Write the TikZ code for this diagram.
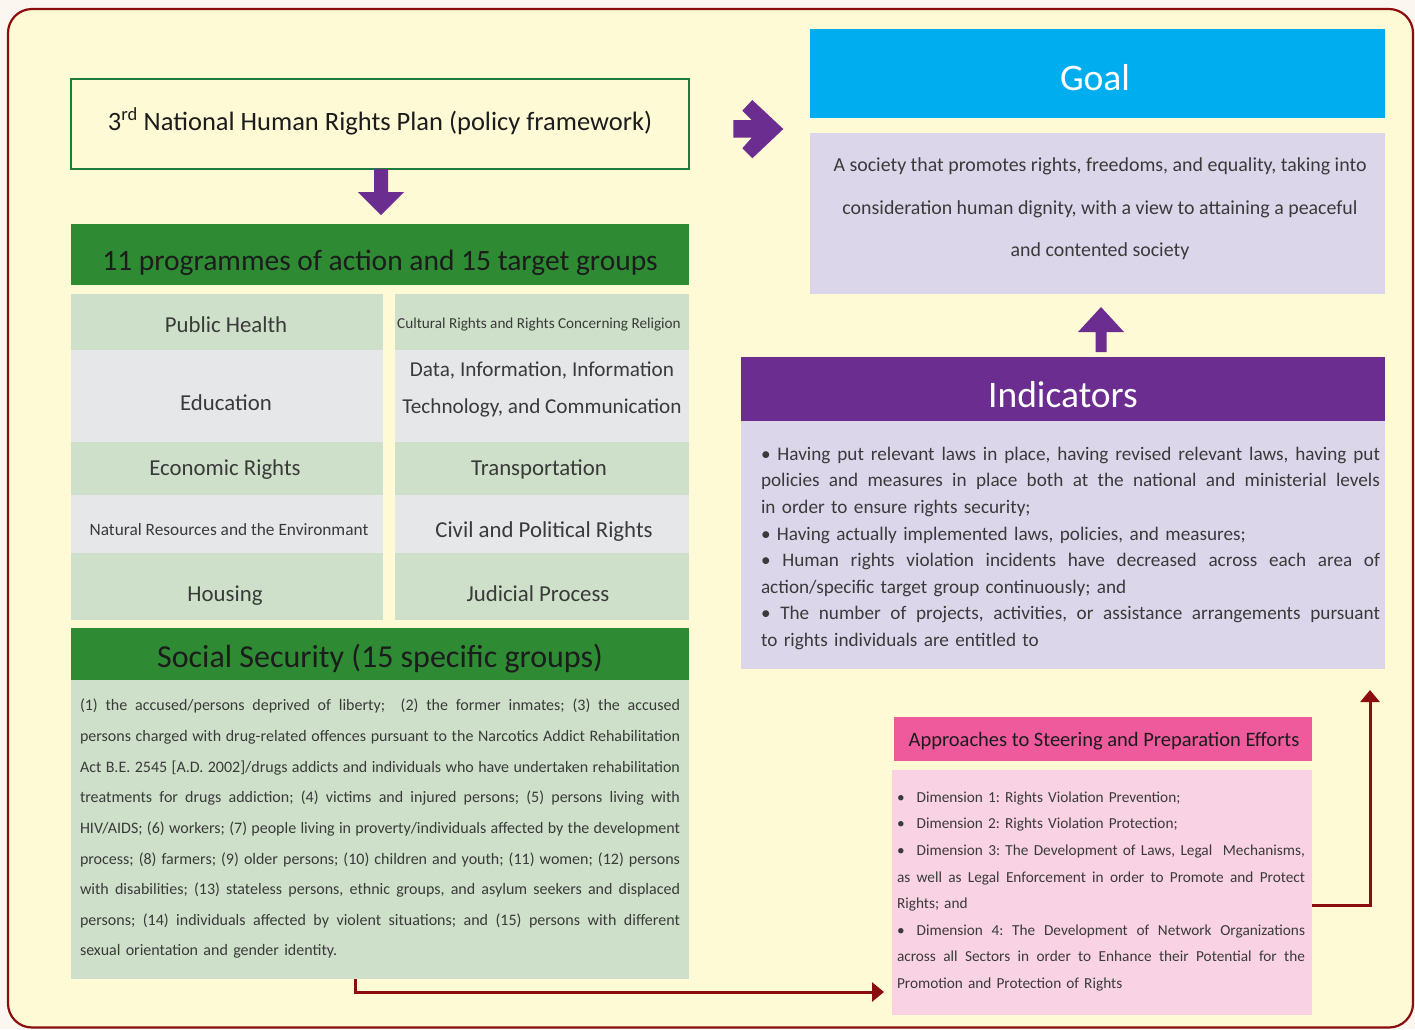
\documentclass[tikz,border=0pt]{standalone}
\usepackage{fontspec}
\setmainfont{Carlito}
\usetikzlibrary{arrows.meta,calc}
\definecolor{bgout}{HTML}{FBF7F0}
\definecolor{paper}{HTML}{FFFAD6}
\definecolor{framered}{HTML}{8B0D0D}
\definecolor{hgreen}{HTML}{2E8B34}
\definecolor{lgreen}{HTML}{CEE0C9}
\definecolor{lgray}{HTML}{E6E7E9}
\definecolor{tgreen}{HTML}{1F7A3D}
\definecolor{purp}{HTML}{6B2D90}
\definecolor{cyanb}{HTML}{00AEEF}
\definecolor{lav}{HTML}{DCD6EA}
\definecolor{pinkh}{HTML}{EE5A9C}
\definecolor{pinkl}{HTML}{F9D3E3}
\definecolor{txt}{HTML}{3A3A3A}
\definecolor{htxt}{HTML}{1C1C1C}
\newcommand\Jw{600pt}
\newcommand\Jline[1]{\leavevmode\hbox to \Jw{\frenchspacing\spaceskip=\fontdimen2\font plus 1fil minus 0.3\fontdimen2\font\relax #1}}
\newcommand\Lline[1]{\leavevmode\hbox to \Jw{\frenchspacing #1\hfil}}
\newcommand\fsz[2]{\fontsize{#1}{#2}\selectfont}
\begin{document}
\begin{tikzpicture}[x=1pt,y=-1pt,
  box/.style={anchor=north west, inner sep=0pt, outer sep=0pt},
  lbl/.style={anchor=base, inner sep=0pt, text=txt, font=\fsz{22.8}{26}},
  para/.style={anchor=center, inner sep=0pt, align=left, text=txt},
  redarrow/.style={draw=framered, line width=3pt, -{Triangle[length=12pt,width=19pt]}},
]
% canvas
\path[fill=bgout] (0,0) rectangle (1415,1029);
\useasboundingbox (0,0) rectangle (1415,1029);
\draw[framered, line width=2.2pt, fill=paper, rounded corners=24pt] (8,9) rectangle (1413,1027.5);

% ---- left column ----
\node[box, draw=tgreen, line width=2pt, fill=paper, minimum width=618pt, minimum height=90pt] (title) at (71,79) {};
\node[lbl, text=htxt, font=\fsz{26.5}{30}] (titletxt) at (380,130) {3\textsuperscript{rd} National Human Rights Plan (policy framework)};

\node[box, fill=hgreen, minimum width=618pt, minimum height=61pt] (progh) at (71,224) {};
\node[lbl, text=htxt, font=\fsz{29.5}{32}] (proghtxt) at (380,270) {11 programmes of action and 15 target groups};

% cells left
\node[box, fill=lgreen, minimum width=312pt, minimum height=56pt] (c1) at (71,294) {};
\node[box, fill=lgray,  minimum width=312pt, minimum height=92pt] (c2) at (71,350) {};
\node[box, fill=lgreen, minimum width=312pt, minimum height=53pt] (c3) at (71,442) {};
\node[box, fill=lgray,  minimum width=312pt, minimum height=58pt] (c4) at (71,495) {};
\node[box, fill=lgreen, minimum width=312pt, minimum height=67pt] (c5) at (71,553) {};
% cells right
\node[box, fill=lgreen, minimum width=294pt, minimum height=56pt] (d1) at (395,294) {};
\node[box, fill=lgray,  minimum width=294pt, minimum height=92pt] (d2) at (395,350) {};
\node[box, fill=lgreen, minimum width=294pt, minimum height=53pt] (d3) at (395,442) {};
\node[box, fill=lgray,  minimum width=294pt, minimum height=58pt] (d4) at (395,495) {};
\node[box, fill=lgreen, minimum width=294pt, minimum height=67pt] (d5) at (395,553) {};

\node[lbl] (t1) at (226,332) {Public Health};
\node[lbl] (t2) at (226,410) {Education};
\node[lbl] (t3) at (225,475) {Economic Rights};
\node[lbl, font=\fsz{17.3}{20}] (t4) at (229,535) {Natural Resources and the Environmant};
\node[lbl] (t5) at (225,601) {Housing};
\node[lbl, font=\fsz{15.2}{17}] (u1) at (539,328) {Cultural Rights and Rights Concerning Religion};
\node[anchor=center, inner sep=0pt, text=txt, align=center, font=\fsz{21.2}{37}] (u2) at (542,389.5) {Data, Information, Information\\Technology, and Communication};
\node[lbl] (u3) at (539,475) {Transportation};
\node[lbl] (u4) at (544,537) {Civil and Political Rights};
\node[lbl] (u5) at (538,601) {Judicial Process};

\node[box, fill=hgreen, minimum width=618pt, minimum height=52pt] (ssh) at (71,628) {};
\node[lbl, text=htxt, font=\fsz{32}{34}] (sshtxt) at (380,667) {Social Security (15 specific groups)};

\node[box, fill=lgreen, minimum width=618pt, minimum height=299pt] (ssb) at (71,680) {};
\node[para, text width=600pt, font=\fsz{16}{30.625}] (ssbtxt) at (380,829) {\renewcommand\Jw{600pt}%
\Jline{(1) the accused/persons deprived of liberty;\ \ (2) the former inmates; (3) the accused}\\
\Jline{persons charged with drug-related offences pursuant to the Narcotics Addict Rehabilitation}\\
\Jline{Act B.E. 2545 [A.D. 2002]/drugs addicts and individuals who have undertaken rehabilitation}\\
\Jline{treatments for drugs addiction; (4) victims and injured persons; (5) persons living with}\\
\Jline{HIV/AIDS; (6) workers; (7) people living in proverty/individuals affected by the development}\\
\Jline{process; (8) farmers; (9) older persons; (10) children and youth; (11) women; (12) persons}\\
\Jline{with disabilities; (13) stateless persons, ethnic groups, and asylum seekers and displaced}\\
\Jline{persons; (14) individuals affected by violent situations; and (15) persons with different}\\
\Lline{sexual orientation and gender identity.}};

% ---- right column ----
\node[box, fill=cyanb, minimum width=575pt, minimum height=89pt] (goalh) at (810,29) {};
\node[lbl, text=white, font=\fsz{37.5}{40}] (goalhtxt) at (1095,90) {Goal};
\node[box, fill=lav, minimum width=575pt, minimum height=161pt] (goalb) at (810,133) {};
\node[anchor=center, inner sep=0pt, align=center, text=txt, font=\fsz{19.9}{42.5}] (goalbtxt) at (1100,209) {A society that promotes rights, freedoms, and equality, taking into\\consideration human dignity, with a view to attaining a peaceful\\and contented society};

\node[box, fill=purp, minimum width=644pt, minimum height=64pt] (indh) at (741,357) {};
\node[lbl, text=white, font=\fsz{37.5}{40}] (indhtxt) at (1063,407) {Indicators};
\node[box, fill=lav, minimum width=644pt, minimum height=248pt] (indb) at (741,421) {};
\node[para, text width=619pt, font=\fsz{19.2}{26.57}] (indbtxt) at (1070.5,548.3) {\renewcommand\Jw{619pt}%
\Jline{\textbullet\ Having put relevant laws in place, having revised relevant laws, having put}\\
\Jline{policies and measures in place both at the national and ministerial levels}\\
\Lline{in order to ensure rights security;}\\
\Lline{\textbullet\ Having actually implemented laws, policies, and measures;}\\
\Jline{\textbullet\ Human rights violation incidents have decreased across each area of}\\
\Lline{action/specific target group continuously; and}\\
\Jline{\textbullet\ The number of projects, activities, or assistance arrangements pursuant}\\
\Lline{to rights individuals are entitled to}};

\node[box, fill=pinkh, minimum width=418pt, minimum height=44pt] (apph) at (894,717) {};
\node[lbl, text=htxt, font=\fsz{20.5}{24}] (apphtxt) at (1104,746) {Approaches to Steering and Preparation Efforts};
\node[box, fill=pinkl, minimum width=420pt, minimum height=245pt] (appb) at (892,770) {};
\node[para, text width=408pt, font=\fsz{15.3}{26.57}] (appbtxt) at (1101,891.3) {\renewcommand\Jw{408pt}%
\Lline{\textbullet\hspace{12pt}Dimension 1: Rights Violation Prevention;}\\
\Lline{\textbullet\hspace{12pt}Dimension 2: Rights Violation Protection;}\\
\Jline{\textbullet\hspace{12pt}Dimension 3: The Development of Laws, Legal\ \ Mechanisms,}\\
\Jline{as well as Legal Enforcement in order to Promote and Protect}\\
\Lline{Rights; and}\\
\Jline{\textbullet\hspace{12pt}Dimension 4: The Development of Network Organizations}\\
\Jline{across all Sectors in order to Enhance their Potential for the}\\
\Lline{Promotion and Protection of Rights}};

% ---- purple block arrows ----
\fill[purp] ([xshift=-6pt]title.south) -- ++(14,0) -- ++(0,23) -- ++(16,0) -- ++(-23,23) -- ++(-23,-23) -- ++(16,0) -- cycle;
\fill[purp] ([xshift=38pt,yshift=5pt]indh.north) -- ++(-5.5,0) -- ++(0,-20) -- ++(-17.5,0) -- ++(23,-25) -- ++(23,25) -- ++(-17.5,0) -- ++(0,20) -- cycle;
\begin{scope}[shift={(title.east)}]
\fill[purp] (44.3,-4) -- (62.7,-4) -- (53.3,-13.3) -- (63.3,-24) -- (94.3,5) -- (63.3,34.3) -- (53.3,24.3) -- (62.7,13.7) -- (44.3,13.7) -- cycle;
\end{scope}

% ---- dark red connectors ----
\coordinate (indtip) at (1370,690);
\draw[redarrow] ([xshift=-25pt]ssb.south) |- ([xshift=-8pt]appb.west |- 0,992);
\draw[redarrow] (appb.east |- 0,905) -| (indtip);
\end{tikzpicture}
\end{document}
